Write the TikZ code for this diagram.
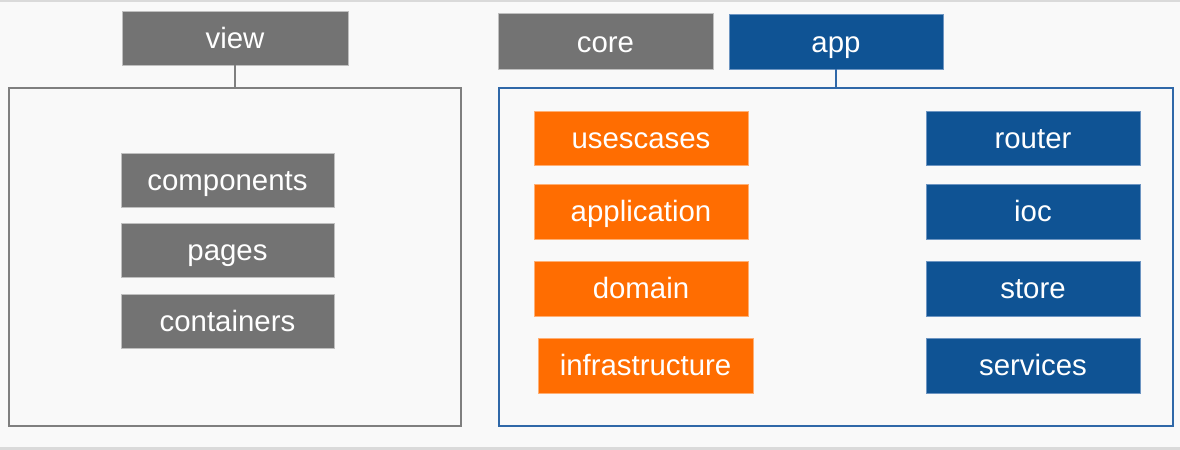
\documentclass[tikz,border=0pt]{standalone}
\usepackage{fontspec}
\setmainfont{Liberation Sans}
\definecolor{bgcol}{HTML}{F9F9F9}
\definecolor{greybox}{HTML}{737373}
\definecolor{bluebox}{HTML}{0F5394}
\definecolor{orangebox}{HTML}{FF6D01}
\definecolor{frameline}{HTML}{7F7F7F}
\definecolor{blueline}{HTML}{2F68A8}
\definecolor{edgeline}{HTML}{DADADA}
\begin{document}
\begin{tikzpicture}[x=1bp,y=-1bp,
  lbl/.style={text=white,anchor=base,inner sep=0pt,font=\fontsize{29.5}{32}\selectfont},
  greyrect/.style={fill=greybox,draw=black!25,line width=0.8bp},
  bluerect/.style={fill=bluebox,draw=blueline!70,line width=0.8bp},
  orangerect/.style={fill=orangebox,draw=orangebox!55,line width=0.8bp},
  greyframe/.style={draw=frameline,line width=1.2bp},
  blueframe/.style={draw=blueline,line width=1.2bp},
  link/.style={line width=1.1bp}]
% canvas
\fill[bgcol] (0,0) rectangle (1180,450);
\useasboundingbox (0,0) rectangle (1180,450);
\fill[edgeline] (0,0) rectangle (1180,2);
\fill[edgeline] (0,447) rectangle (1180,450);

% block: view
\draw[greyframe] (9,88) rectangle (461,426);
\path[greyrect] (122,11) rectangle (348,65);
\node[lbl] (view) at (235,49) {view};
\coordinate (viewtop) at (235,65);
\coordinate (viewframe) at (235,88);
\draw[link,draw=frameline] (viewtop) -- (viewframe);

\path[greyrect] (121,153) rectangle (334,207);
\node[lbl] (components) at (227.5,191) {components};
\path[greyrect] (121,223) rectangle (334,277);
\node[lbl] (pages) at (227.5,261) {pages};
\path[greyrect] (121,294) rectangle (334,348);
\node[lbl] (containers) at (227.5,332) {containers};

% block: core / app
\path[greyrect] (498,13) rectangle (713,69);
\node[lbl] (core) at (605.5,53) {core};
\path[bluerect] (729,14) rectangle (943,69);
\node[lbl] (app) at (836,53) {app};
\draw[blueframe] (499,88) rectangle (1173,426);
\coordinate (apptop) at (836,69);
\coordinate (appframe) at (836,88);
\draw[link,draw=blueline] (apptop) -- (appframe);

% core layers
\path[orangerect] (534,111) rectangle (748,165);
\node[lbl] (usescases) at (641,149) {usescases};
\path[orangerect] (534,184) rectangle (748,239);
\node[lbl] (application) at (641,222) {application};
\path[orangerect] (534,261) rectangle (748,316);
\node[lbl] (domain) at (641,299) {domain};
\path[orangerect] (538,338) rectangle (753,393);
\node[lbl] (infrastructure) at (645.5,376) {infrastructure};

% app modules
\path[bluerect] (926,111) rectangle (1140,165);
\node[lbl] (router) at (1033,149) {router};
\path[bluerect] (926,184) rectangle (1140,239);
\node[lbl] (ioc) at (1033,222) {ioc};
\path[bluerect] (926,261) rectangle (1140,316);
\node[lbl] (store) at (1033,299) {store};
\path[bluerect] (926,338) rectangle (1140,393);
\node[lbl] (services) at (1033,376) {services};
\end{tikzpicture}
\end{document}
